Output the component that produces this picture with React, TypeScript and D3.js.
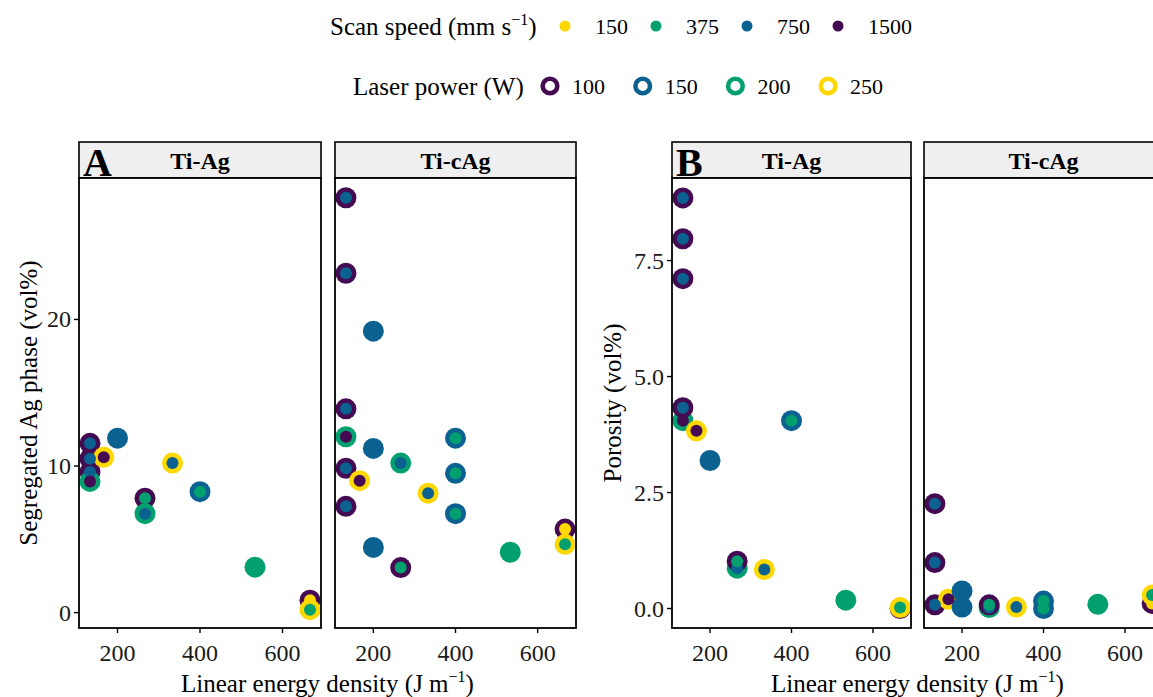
import React from 'react';
import * as d3 from 'd3';

// ---- legend categories ----
const speedLevels = [150, 375, 750, 1500];
const speedColors = ['#ffd800', '#03a06f', '#0b6190', '#440b52'];
const powerLevels = [100, 150, 200, 250];
const powerColors = ['#440b52', '#0b6190', '#03a06f', '#ffd800'];

// ---- tick labels ----
const xTicks = [200, 400, 600];
const yTicksA = [0, 10, 20];
const yTicksB = [0, 2.5, 5, 7.5];

// ---- A: Segregated Ag phase, Ti-Ag ----
const segTiAgPower = [100, 100, 100, 200, 250, 150, 100, 200, 250, 150, 200, 100, 250];
const segTiAgSpeed = [750, 750, 750, 1500, 1500, 750, 375, 750, 750, 375, 375, 150, 375];
const segTiAgValue = [11.55, 10.5, 9.6, 8.95, 10.6, 11.9, 7.8, 6.75, 10.2, 8.25, 3.1, 0.85, 0.2];

// ---- A: Segregated Ag phase, Ti-cAg ----
const segTicAgPower = [100, 100, 150, 100, 200, 150, 200, 100, 250, 250, 100, 150, 150, 150, 150, 100, 200, 100, 250];
const segTicAgSpeed = [750, 750, 750, 750, 1500, 750, 750, 750, 1500, 750, 750, 375, 375, 375, 750, 375, 375, 150, 375];
const segTicAgValue = [28.3, 23.15, 19.2, 13.9, 12.0, 11.2, 10.2, 9.85, 9.0, 8.15, 7.25, 11.9, 9.5, 6.75, 4.45, 3.07, 4.12, 5.7, 4.66];

// ---- B: Porosity, Ti-Ag ----
const porTiAgPower = [100, 100, 100, 200, 100, 250, 150, 200, 100, 250, 150, 200, 100, 250];
const porTiAgSpeed = [750, 750, 750, 1500, 750, 1500, 750, 750, 375, 750, 375, 375, 150, 375];
const porTiAgValue = [8.85, 7.97, 7.11, 4.05, 4.33, 3.83, 3.19, 0.87, 1.02, 0.84, 4.05, 0.18, 0.0, 0.02];

// ---- B: Porosity, Ti-cAg ----
const porTicAgPower = [100, 100, 100, 250, 150, 150, 200, 100, 250, 150, 150, 200, 100, 250];
const porTicAgSpeed = [750, 750, 750, 1500, 750, 750, 750, 375, 750, 375, 375, 375, 150, 375];
const porTicAgValue = [2.26, 0.99, 0.08, 0.2, 0.38, 0.03, 0.02, 0.08, 0.03, 0.16, 0.0, 0.09, 0.11, 0.29];

const FONT = '"Liberation Serif", "Times New Roman", serif';

type Pt = { x: number; y: number; power: number; speed: number };

function build(power: number[], speed: number[], value: number[]): Pt[] {
  return value.map((v, i) => ({
    x: power[i] / (speed[i] / 1000),
    y: v,
    power: power[i],
    speed: speed[i],
  }));
}

const allX = [
  ...build(segTiAgPower, segTiAgSpeed, segTiAgValue),
  ...build(segTicAgPower, segTicAgSpeed, segTicAgValue),
].map((d) => d.x);
const xMin = d3.min(allX) as number;
const xMax = d3.max(allX) as number;
const xPad = (xMax - xMin) * 0.05;
const xDomain: [number, number] = [xMin - xPad, xMax + xPad];

const powerScale = d3.scaleOrdinal<number, string>().domain(powerLevels).range(powerColors);
const speedScale = d3.scaleOrdinal<number, string>().domain(speedLevels).range(speedColors);

const STRIP_TOP = 142;
const PLOT_TOP = 178;
const PLOT_BOTTOM = 628;
const TICK_FS = 24;
const TITLE_FS = 25;

function Facet({
  left, right, label, pts, yScale,
}: { left: number; right: number; label: string; pts: Pt[]; yScale: d3.ScaleLinear<number, number> }) {
  const x = d3.scaleLinear().domain(xDomain).range([left, right]);
  const clipId = `clip-${label}-${left}`;
  return (
    <g>
      <defs>
        <clipPath id={clipId}>
          <rect x={left} y={PLOT_TOP} width={right - left} height={PLOT_BOTTOM - PLOT_TOP} />
        </clipPath>
      </defs>
      <rect x={left} y={STRIP_TOP} width={right - left} height={PLOT_TOP - STRIP_TOP} fill="#efefef" stroke="#000" strokeWidth={1.6} />
      <text x={(left + right) / 2} y={168.5} textAnchor="middle" fontFamily={FONT} fontWeight="bold" fontSize={24}>{label}</text>
      <rect x={left} y={PLOT_TOP} width={right - left} height={PLOT_BOTTOM - PLOT_TOP} fill="#fff" />
      <g clipPath={`url(#${clipId})`}>
        {pts.map((d, i) => (
          <circle key={'o' + i} cx={x(d.x)} cy={yScale(d.y)} r={10.5} fill={powerScale(d.power)} />
        ))}
        {pts.map((d, i) => (
          <circle key={'i' + i} cx={x(d.x)} cy={yScale(d.y)} r={6} fill={speedScale(d.speed)} />
        ))}
      </g>
      <rect x={left} y={PLOT_TOP} width={right - left} height={PLOT_BOTTOM - PLOT_TOP} fill="none" stroke="#000" strokeWidth={1.8} />
      {xTicks.map((t) => (
        <g key={t}>
          <line x1={x(t)} x2={x(t)} y1={PLOT_BOTTOM} y2={PLOT_BOTTOM + 5} stroke="#000" strokeWidth={1.4} />
          <text x={x(t)} y={661} textAnchor="middle" fontFamily={FONT} fontSize={TICK_FS} fill="#1a1a1a">{t}</text>
        </g>
      ))}
    </g>
  );
}

function Panel({
  left1, right1, left2, right2, tag, yDomain, yTicks, yFmt, yTitle, yTitleX, pts1, pts2,
}: {
  left1: number; right1: number; left2: number; right2: number; tag: string;
  yDomain: [number, number]; yTicks: number[]; yFmt: (v: number) => string; yTitle: string; yTitleX: number;
  pts1: Pt[]; pts2: Pt[];
}) {
  const y = d3.scaleLinear().domain(yDomain).range([PLOT_BOTTOM, PLOT_TOP]);
  const midY = (PLOT_TOP + PLOT_BOTTOM) / 2;
  const midX = (left1 + right2) / 2;
  return (
    <g>
      <Facet left={left1} right={right1} label="Ti-Ag" pts={pts1} yScale={y} />
      <Facet left={left2} right={right2} label="Ti-cAg" pts={pts2} yScale={y} />
      {yTicks.map((t) => (
        <g key={t}>
          <line x1={left1 - 5} x2={left1} y1={y(t)} y2={y(t)} stroke="#000" strokeWidth={1.4} />
          <text x={left1 - 8} y={y(t) + 8} textAnchor="end" fontFamily={FONT} fontSize={TICK_FS} fill="#1a1a1a">{yFmt(t)}</text>
        </g>
      ))}
      <text x={left1 + 4} y={176} fontFamily={FONT} fontWeight="bold" fontSize={40}>{tag}</text>
      <text transform={`translate(${yTitleX},${midY}) rotate(-90)`} textAnchor="middle" fontFamily={FONT} fontSize={TITLE_FS}>{yTitle}</text>
      <text x={midX} y={692} textAnchor="middle" fontFamily={FONT} fontSize={TITLE_FS}>
        Linear energy density (J m<tspan dy={-10} fontSize={16}>−1</tspan><tspan dy={10}>)</tspan>
      </text>
    </g>
  );
}

export default function App() {
  const segA1 = build(segTiAgPower, segTiAgSpeed, segTiAgValue);
  const segA2 = build(segTicAgPower, segTicAgSpeed, segTicAgValue);
  const porB1 = build(porTiAgPower, porTiAgSpeed, porTiAgValue);
  const porB2 = build(porTicAgPower, porTicAgSpeed, porTicAgValue);

  return (
    <svg width={1153} height={697} style={{ position: 'absolute', left: 0, top: 0, background: '#fff' }}>
      <rect x={0} y={0} width={1153} height={697} fill="#fff" />
      {/* Legend row 1 */}
      <text x={330} y={34.5} fontFamily={FONT} fontSize={TITLE_FS}>
        Scan speed (mm s<tspan dy={-10} fontSize={16}>−1</tspan><tspan dy={10}>)</tspan>
      </text>
      {speedLevels.map((s, i) => (
        <g key={s}>
          <circle cx={565 + i * 91} cy={26} r={5.5} fill={speedScale(s)} />
          <text x={595 + i * 91} y={34} fontFamily={FONT} fontSize={22}>{s}</text>
        </g>
      ))}
      {/* Legend row 2 */}
      <text x={353} y={94.5} fontFamily={FONT} fontSize={TITLE_FS}>Laser power (W)</text>
      {powerLevels.map((p, i) => (
        <g key={p}>
          <circle cx={550 + i * 92.7} cy={86} r={7.3} fill="#fff" stroke={powerScale(p)} strokeWidth={4.6} />
          <text x={572 + i * 92.7} y={94} fontFamily={FONT} fontSize={22}>{p}</text>
        </g>
      ))}
      <Panel left1={79} right1={321} left2={335} right2={576} tag="A"
        yDomain={[-1.05, 29.65]} yTicks={yTicksA} yFmt={(v) => d3.format('d')(v)}
        yTitle="Segregated Ag phase (vol%)" yTitleX={37} pts1={segA1} pts2={segA2} />
      <Panel left1={672} right1={911} left2={924} right2={1163} tag="B"
        yDomain={[-0.42, 9.28]} yTicks={yTicksB} yFmt={(v) => d3.format('.1f')(v)}
        yTitle="Porosity (vol%)" yTitleX={621} pts1={porB1} pts2={porB2} />
    </svg>
  );
}
